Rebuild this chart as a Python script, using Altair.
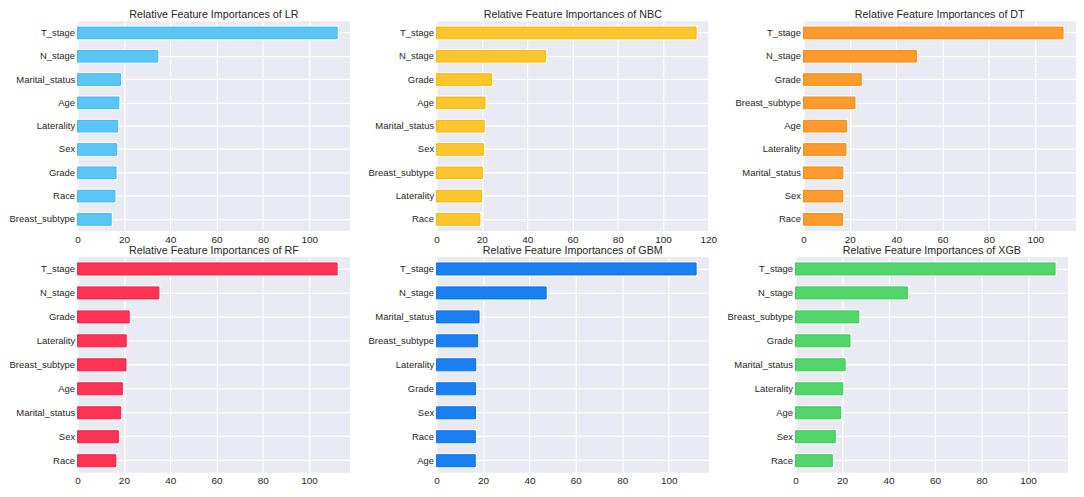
import altair as alt
import pandas as pd

# ---- data ----
models = ["LR", "NBC", "DT", "RF", "GBM", "XGB"]

lr_features = ["T_stage", "N_stage", "Marital_status", "Age", "Laterality", "Sex", "Grade", "Race", "Breast_subtype"]
lr_values = [112.0, 34.6, 18.5, 17.8, 17.3, 16.9, 16.6, 16.1, 14.5]

nbc_features = ["T_stage", "N_stage", "Grade", "Age", "Marital_status", "Sex", "Breast_subtype", "Laterality", "Race"]
nbc_values = [114.6, 48.1, 24.3, 21.4, 21.0, 20.7, 20.2, 19.8, 19.1]

dt_features = ["T_stage", "N_stage", "Grade", "Breast_subtype", "Age", "Laterality", "Marital_status", "Sex", "Race"]
dt_values = [112.0, 48.8, 24.9, 22.2, 18.6, 18.3, 16.95, 16.9, 16.85]

rf_features = ["T_stage", "N_stage", "Grade", "Laterality", "Breast_subtype", "Age", "Marital_status", "Sex", "Race"]
rf_values = [112.1, 35.1, 22.3, 21.0, 20.9, 19.3, 18.6, 17.6, 16.5]

gbm_features = ["T_stage", "N_stage", "Marital_status", "Breast_subtype", "Laterality", "Grade", "Sex", "Race", "Age"]
gbm_values = [111.8, 47.2, 18.3, 17.7, 16.85, 16.8, 16.75, 16.7, 16.65]

xgb_features = ["T_stage", "N_stage", "Breast_subtype", "Grade", "Marital_status", "Laterality", "Age", "Sex", "Race"]
xgb_values = [111.6, 48.1, 27.2, 23.4, 21.3, 20.3, 19.4, 17.1, 15.8]

fill_colors = ["#5BC6F5", "#FEC62E", "#FF9A2E", "#FE3356", "#1A80F2", "#52D66C"]
edge_colors = ["#3FB8F0", "#F5B800", "#F58A10", "#F01F45", "#0070E8", "#3ACB55"]

panels = [
    (lr_features, lr_values),
    (nbc_features, nbc_values),
    (dt_features, dt_values),
    (rf_features, rf_values),
    (gbm_features, gbm_values),
    (xgb_features, xgb_values),
]

FONT = "Liberation Sans"
TXT = "#262626"
W = 274
EXT = 70
H_TOP, H_BOTTOM = 211, 217


def panel(i, h):
    feats, vals = panels[i]
    df = pd.DataFrame({"feature": feats, "importance": vals})
    dmax = max(vals) * 1.05
    ticks = [v for v in range(0, 141, 20) if v <= dmax]
    x = alt.X(
        "importance:Q",
        scale=alt.Scale(domain=[0, dmax], nice=False, zero=True),
        axis=alt.Axis(
            values=ticks, title=None, grid=True, gridColor="white", gridWidth=1.2,
            domain=False, ticks=False, labelPadding=3, labelFontSize=10,
            labelColor=TXT, labelFont=FONT, labelFlush=False,
        ),
    )
    y = alt.Y(
        "feature:N",
        sort=feats,
        scale=alt.Scale(paddingInner=0.5, paddingOuter=0.25),
        axis=alt.Axis(
            title=None, grid=True, gridColor="white", gridWidth=1.2, bandPosition=0.5,
            domain=False, ticks=False, labelPadding=3, labelFontSize=9.5,
            labelColor=TXT, labelFont=FONT, minExtent=EXT, maxExtent=EXT,
        ),
    )
    base = alt.Chart(df)
    outline = base.mark_bar(fill=fill_colors[i], stroke="white", strokeWidth=3).encode(x=x, y=y)
    bars = base.mark_bar(fill=fill_colors[i], stroke=edge_colors[i], strokeWidth=1).encode(x=x, y=y)
    return alt.layer(outline, bars).properties(
        width=W, height=h,
        title=alt.TitleParams(
            f"Relative Feature Importances of {models[i]}",
            fontSize=10.8, font=FONT, color=TXT, fontWeight="normal",
            anchor="middle", offset=1,
        ),
    )


row1 = alt.hconcat(panel(0, H_TOP), panel(1, H_TOP), panel(2, H_TOP), spacing=17)
row2 = alt.hconcat(panel(3, H_BOTTOM), panel(4, H_BOTTOM), panel(5, H_BOTTOM), spacing=17)

chart = (
    alt.vconcat(row1, row2, spacing=1)
    .properties(padding=0, background="white")
    .configure_view(fill="#EAEAF2", stroke=None)
)

chart.save("out.html", embed_options={"renderer": "svg", "actions": False})
